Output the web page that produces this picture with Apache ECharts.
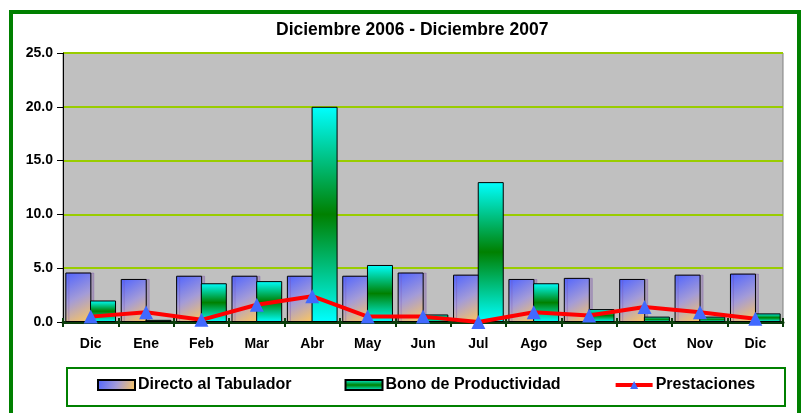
<!DOCTYPE html>
<html>
<head>
<meta charset="utf-8">
<script src="https://cdn.jsdelivr.net/npm/echarts@6/dist/echarts.min.js"></script>
<style>
  html, body { margin: 0; padding: 0; background: #fff; }
  #chart { width: 802px; height: 413px; }
</style>
</head>
<body>
<div id="chart"></div>
<script>
const meses = ["Dic", "Ene", "Feb", "Mar", "Abr", "May", "Jun", "Jul", "Ago", "Sep", "Oct", "Nov", "Dic"];
const directoTabulador = [4.6, 4.0, 4.3, 4.3, 4.3, 4.3, 4.6, 4.4, 4.0, 4.1, 4.0, 4.4, 4.5];
const bonoProductividad = [2.0, 0.2, 3.6, 3.8, 20.0, 5.3, 0.7, 13.0, 3.6, 1.2, 0.5, 0.5, 0.8];
const prestaciones = [0.5, 0.9, 0.2, 1.6, 2.4, 0.5, 0.5, 0.0, 0.9, 0.6, 1.4, 0.9, 0.3];

const fuente = '"Liberation Sans", Arial, sans-serif';

// degradados estilo Excel
const gradDirecto = new echarts.graphic.LinearGradient(0, 0, 1, 1, [
  { offset: 0, color: "#4F63FF" },
  { offset: 0.5, color: "#A39BD8" },
  { offset: 1, color: "#FFC85A" },
]);
const gradBono = new echarts.graphic.LinearGradient(0, 0, 0, 1, [
  { offset: 0, color: "#00FFFF" },
  { offset: 0.5, color: "#008000" },
  { offset: 1, color: "#00FFFF" },
]);

const chart = echarts.init(document.getElementById("chart"));

const option = {
  animation: false,
  textStyle: { fontFamily: fuente },
  title: {
    text: "Diciembre 2006 - Diciembre 2007",
    left: 271,
    top: 16,
    textStyle: { fontSize: 17.5, fontWeight: "bold", color: "#000", fontFamily: fuente },
  },
  grid: {
    left: 63,
    top: 53,
    right: 19,
    bottom: 91,
    show: true,
    backgroundColor: "#C0C0C0",
    borderColor: "#808080",
    borderWidth: 1,
  },
  legend: {
    left: 92,
    top: 372,
    itemGap: 53,
    itemWidth: 37,
    itemHeight: 10,
    textStyle: { fontSize: 16, fontWeight: "bold", color: "#000", fontFamily: fuente, padding: [0, 0, 0, -2] },
    data: [
      { name: "Directo al Tabulador", icon: "rect" },
      { name: "Bono de Productividad", icon: "rect" },
      { name: "Prestaciones", lineStyle: { width: 4 } },
    ],
  },
  xAxis: [
    {
      type: "category",
      data: meses,
      axisLine: { lineStyle: { color: "#0B3D0B", width: 3 } },
      axisTick: { show: true, length: 5, lineStyle: { color: "#0B3D0B", width: 2 } },
      axisLabel: { fontSize: 14, fontWeight: "bold", color: "#000", margin: 15, fontFamily: fuente },
    },
    {
      type: "category",
      data: meses,
      position: "bottom",
      axisLine: { show: false },
      axisTick: { show: true, inside: true, length: 4, lineStyle: { color: "#0B3D0B", width: 2 } },
      axisLabel: { show: false },
    },
  ],
  yAxis: {
    type: "value",
    min: 0,
    max: 25,
    interval: 5,
    axisLine: { show: true, lineStyle: { color: "#000", width: 1 } },
    axisTick: { show: true, length: 6, lineStyle: { color: "#000" } },
    axisLabel: {
      fontSize: 14,
      fontWeight: "bold",
      color: "#000",
      margin: 10,
      fontFamily: fuente,
      formatter: (v) => v.toFixed(1),
    },
    splitLine: { lineStyle: { color: "#99CC00", width: 2 } },
  },
  series: [
    {
      name: "Directo al Tabulador",
      type: "bar",
      data: directoTabulador,
      barWidth: 26,
      barGap: "-5%",
      itemStyle: {
        color: gradDirecto,
        borderColor: "#000",
        borderWidth: 1,
        shadowColor: "rgba(120,80,170,0.35)",
        shadowOffsetX: 3,
      },
    },
    {
      name: "Bono de Productividad",
      type: "bar",
      data: bonoProductividad,
      barWidth: 26,
      itemStyle: {
        color: gradBono,
        borderColor: "#000",
        borderWidth: 1,
      },
    },
    {
      name: "Prestaciones",
      type: "line",
      data: prestaciones,
      symbol: "triangle",
      symbolSize: 14,
      itemStyle: { color: "#4169FF" },
      lineStyle: { color: "#FF0000", width: 4 },
      z: 5,
    },
  ],
  graphic: [
    {
      type: "rect",
      shape: { x: 11, y: 12, width: 788, height: 410 },
      style: { fill: "none", stroke: "#008000", lineWidth: 4 },
      silent: true,
      z: -1,
    },
    {
      type: "rect",
      shape: { x: 67, y: 368, width: 718, height: 38 },
      style: { fill: "none", stroke: "#008000", lineWidth: 2 },
      silent: true,
      z: -1,
    },
  ],
};

chart.setOption(option);
</script>
</body>
</html>
